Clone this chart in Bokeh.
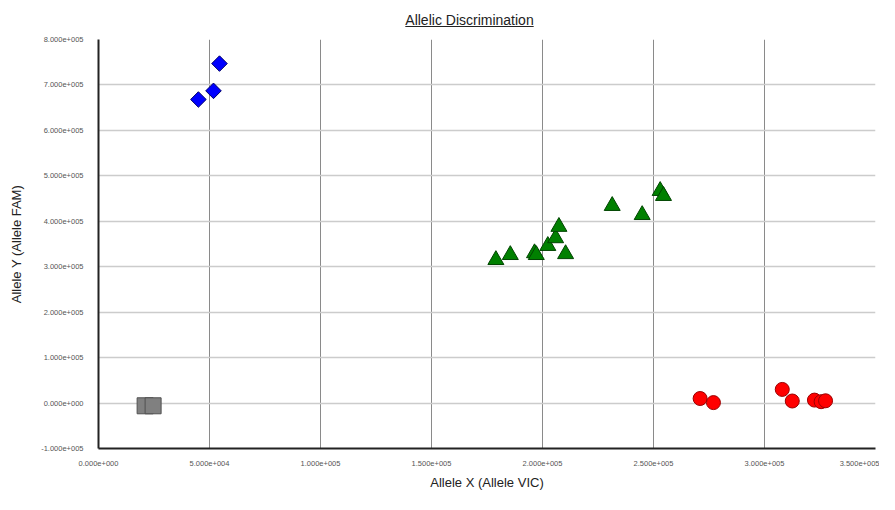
import math
from bokeh.plotting import figure
from bokeh.embed import file_html
from bokeh.resources import INLINE
from bokeh.layouts import column
from bokeh.models import (FixedTicker, CustomJSTickFormatter, Legend, LegendItem,
                          Range1d, Div)

# ---- data ----
allele_x_x = [271000, 277000, 308000, 312500, 322500, 325500, 327500]
allele_x_y = [10000, 1000, 30000, 4500, 6500, 3000, 5000]

allele_y_x = [45000, 51800, 54500]
allele_y_y = [668000, 687000, 747000]

both_x = [179000, 185500, 196400, 197200, 202400, 205900, 207400, 210400, 231400, 244900, 253000, 254500]
both_y = [315000, 326000, 330000, 326000, 346000, 363000, 388000, 328000, 434000, 414000, 467000, 456000]

ntc_x = [21000, 24600]
ntc_y = [-6000, -6000]

undet_x = []
undet_y = []

x_ticks = [0, 50000, 100000, 150000, 200000, 250000, 300000, 350000]
y_ticks = [-100000, 0, 100000, 200000, 300000, 400000, 500000, 600000, 700000, 800000]

title_text = "Allelic Discrimination"
x_label = "Allele X (Allele VIC)"
y_label = "Allele Y (Allele FAM)"
legend_labels = ["Allele X", "Allele Y", "Both", "NTC", "Undetermined"]

FONT = "Liberation Sans"

title_div = Div(text=f"<u>{title_text}</u>", width=879, height=21,
                styles={"font-family": FONT, "font-size": "14px", "color": "#222222",
                        "text-align": "center", "width": "879px", "line-height": "31px",
                        "padding-left": "50px", "box-sizing": "border-box",
                        "overflow": "visible"})

p = figure(frame_width=777, frame_height=409,
           min_border_left=98, min_border_right=4, min_border_top=8, min_border_bottom=0,
           x_range=Range1d(x_ticks[0], x_ticks[-1]), y_range=Range1d(y_ticks[0], y_ticks[-1]),
           output_backend="svg", toolbar_location=None, tools="")
p.outline_line_color = None
p.background_fill_color = "white"
p.border_fill_color = "white"

fmt = CustomJSTickFormatter(code="""
const s = tick.toExponential(3);
const parts = s.split('e');
const sign = parts[1][0];
let ex = parts[1].slice(1);
while (ex.length < 3) ex = '0' + ex;
return parts[0] + 'e' + sign + ex;
""")

for ax in (p.xaxis[0], p.yaxis[0]):
    ax.formatter = fmt
    ax.major_tick_line_color = None
    ax.minor_tick_line_color = None
    ax.axis_line_color = "#222222"
    ax.axis_line_width = 2
    ax.major_label_text_font = FONT
    ax.major_label_text_font_size = "7.5px"
    ax.major_label_text_color = "#555555"
    ax.axis_label_text_font = FONT
    ax.axis_label_text_font_size = "13px"
    ax.axis_label_text_font_style = "normal"
    ax.axis_label_text_color = "#222222"

p.xaxis.ticker = FixedTicker(ticks=x_ticks)
p.yaxis.ticker = FixedTicker(ticks=y_ticks)
p.xaxis.axis_label = x_label
p.yaxis.axis_label = y_label
p.xaxis.major_label_standoff = 6
p.xaxis.axis_label_standoff = 6
p.yaxis.major_label_standoff = 9
p.yaxis.axis_label_standoff = 14

p.xgrid.ticker = FixedTicker(ticks=x_ticks)
p.ygrid.ticker = FixedTicker(ticks=y_ticks)
p.xgrid.grid_line_color = "#8a8a8a"
p.xgrid.grid_line_width = 1
p.ygrid.grid_line_color = "#cccccc"
p.ygrid.grid_line_width = 1.5

r_x = p.scatter(allele_x_x, allele_x_y, marker="circle", size=14,
                fill_color="#ff0000", line_color="#9a0000", line_width=1)
r_y = p.scatter(allele_y_x, allele_y_y, marker="square", size=11, angle=math.pi / 4,
                fill_color="#0000ff", line_color="#00006a", line_width=1)
r_b = p.scatter(both_x, both_y, marker="triangle", size=16,
                fill_color="#008000", line_color="#004400", line_width=1)
r_n = p.scatter(ntc_x, ntc_y, marker="square", size=16,
                fill_color="#808080", line_color="#505050", line_width=1)
r_u = p.scatter(undet_x, undet_y, marker="x", size=10,
                line_color="black", line_width=3)

legend = Legend(items=[LegendItem(label=lab, renderers=[r])
                       for lab, r in zip(legend_labels, [r_x, r_y, r_b, r_n, r_u])],
                orientation="horizontal", location=(-69, 14))
legend.label_text_font = FONT
legend.label_text_font_size = "7px"
legend.label_text_color = "#444444"
legend.glyph_width = 12
legend.glyph_height = 10
legend.label_standoff = 2
legend.label_width = 119
legend.label_height = 10
legend.spacing = 28
legend.padding = 0
legend.margin = 0
legend.border_line_color = None
legend.background_fill_alpha = 0
p.add_layout(legend, "below")

layout = column(title_div, p, spacing=0)
open("out.html", "w").write(file_html(layout, INLINE))
